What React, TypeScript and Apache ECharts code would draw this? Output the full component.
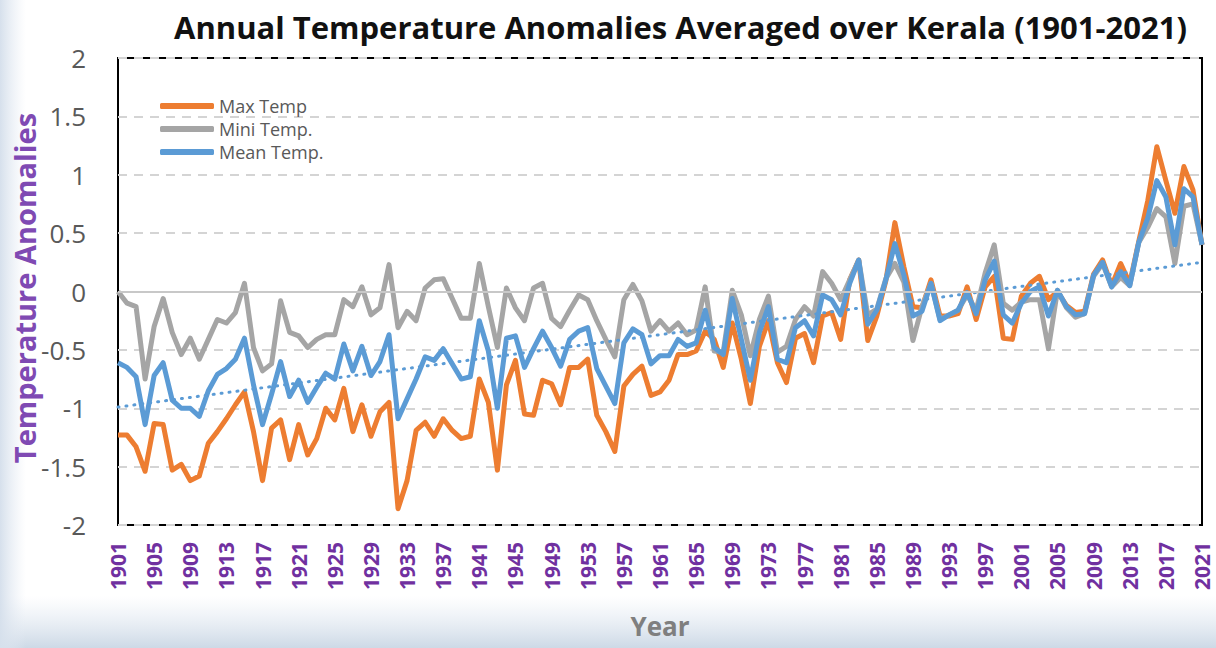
import React, { useEffect, useRef } from "react";
import * as echarts from "echarts";

const years: string[] = Array.from({ length: 121 }, (_, i) => String(1901 + i));

const maxTemp = [
  -1.23, -1.23, -1.33, -1.54, -1.13, -1.14, -1.53, -1.48, -1.62, -1.58,
  -1.30, -1.20, -1.09, -0.97, -0.86, -1.20, -1.62, -1.17, -1.10, -1.44,
  -1.14, -1.40, -1.26, -1.00, -1.10, -0.83, -1.20, -0.97, -1.24, -1.03,
  -0.95, -1.86, -1.62, -1.19, -1.12, -1.24, -1.09, -1.19, -1.26, -1.24,
  -0.75, -0.95, -1.53, -0.80, -0.59, -1.05, -1.06, -0.76, -0.79, -0.97,
  -0.65, -0.65, -0.58, -1.06, -1.20, -1.37, -0.81, -0.71, -0.64, -0.89,
  -0.86, -0.76, -0.54, -0.54, -0.51, -0.34, -0.41, -0.65, -0.27, -0.58,
  -0.96, -0.47, -0.25, -0.61, -0.78, -0.40, -0.36, -0.61, -0.21, -0.18,
  -0.41, 0.10, 0.27, -0.42, -0.21, 0.09, 0.59, 0.21, -0.13, -0.14,
  0.10, -0.21, -0.21, -0.19, 0.04, -0.24, 0.04, 0.13, -0.40, -0.41,
  -0.04, 0.07, 0.13, -0.07, 0.00, -0.12, -0.18, -0.17, 0.15, 0.27,
  0.05, 0.24, 0.07, 0.43, 0.78, 1.24, 0.95, 0.67, 1.07, 0.87,
  0.40,
];

const miniTemp = [
  0.00, -0.10, -0.13, -0.75, -0.30, -0.06, -0.35, -0.54, -0.40, -0.58,
  -0.41, -0.24, -0.27, -0.18, 0.07, -0.48, -0.68, -0.62, -0.08, -0.35,
  -0.38, -0.48, -0.41, -0.37, -0.37, -0.07, -0.13, 0.04, -0.20, -0.14,
  0.23, -0.31, -0.17, -0.25, 0.03, 0.10, 0.11, -0.06, -0.23, -0.23,
  0.24, -0.13, -0.48, 0.03, -0.14, -0.25, 0.03, 0.07, -0.23, -0.30,
  -0.16, -0.03, -0.07, -0.25, -0.41, -0.56, -0.07, 0.06, -0.08, -0.34,
  -0.25, -0.34, -0.27, -0.37, -0.33, 0.04, -0.51, -0.52, 0.01, -0.20,
  -0.55, -0.24, -0.04, -0.52, -0.47, -0.24, -0.13, -0.21, 0.17, 0.07,
  -0.07, 0.10, 0.27, -0.20, -0.15, 0.11, 0.24, 0.08, -0.42, -0.13,
  0.07, -0.24, -0.20, -0.16, -0.03, -0.16, 0.16, 0.40, -0.10, -0.16,
  -0.09, -0.07, -0.07, -0.49, 0.01, -0.14, -0.22, -0.19, 0.13, 0.24,
  0.04, 0.12, 0.05, 0.42, 0.55, 0.71, 0.64, 0.24, 0.73, 0.75,
  0.40,
];

const meanTemp = [
  -0.61, -0.65, -0.73, -1.14, -0.72, -0.61, -0.93, -1.00, -1.00, -1.07,
  -0.85, -0.71, -0.66, -0.58, -0.40, -0.80, -1.14, -0.88, -0.60, -0.90,
  -0.76, -0.95, -0.82, -0.70, -0.75, -0.45, -0.68, -0.47, -0.72, -0.60,
  -0.37, -1.09, -0.92, -0.75, -0.56, -0.59, -0.49, -0.62, -0.75, -0.73,
  -0.25, -0.51, -1.00, -0.40, -0.38, -0.65, -0.49, -0.34, -0.48, -0.64,
  -0.41, -0.34, -0.31, -0.66, -0.81, -0.96, -0.44, -0.32, -0.37, -0.62,
  -0.55, -0.55, -0.41, -0.47, -0.44, -0.16, -0.48, -0.54, -0.06, -0.41,
  -0.76, -0.35, -0.13, -0.58, -0.61, -0.31, -0.25, -0.38, -0.03, -0.07,
  -0.20, 0.07, 0.27, -0.28, -0.16, 0.10, 0.41, 0.14, -0.21, -0.17,
  0.07, -0.25, -0.20, -0.16, -0.01, -0.19, 0.10, 0.26, -0.20, -0.27,
  -0.10, 0.00, 0.04, -0.21, 0.01, -0.13, -0.20, -0.19, 0.14, 0.25,
  0.04, 0.17, 0.05, 0.42, 0.63, 0.95, 0.81, 0.40, 0.88, 0.81,
  0.40,
];

// Linear trend line of Mean Temp, end points
const trendYears = ["1901", "2021"];
const trendValues = [-0.99, 0.25];

const FONT = "'Open Sans', 'Noto Sans', sans-serif";

export default function App() {
  const ref = useRef<HTMLDivElement>(null);
  useEffect(() => {
    if (!ref.current) return;
    const chart = echarts.init(ref.current, undefined, { renderer: "svg" });
    const lineCommon = {
      type: "line" as const,
      showSymbol: false,
      symbol: "none",
      smooth: false,
      z: 3,
    };
    chart.setOption({
      animation: false,
      backgroundColor: "#ffffff",
      textStyle: { fontFamily: FONT },
      graphic: [
        {
          type: "rect",
          z: -10,
          silent: true,
          shape: { x: 0, y: 596, width: 1216, height: 52 },
          style: {
            fill: new echarts.graphic.LinearGradient(0, 0, 0, 1, [
              { offset: 0, color: "rgba(220,229,239,0)" },
              { offset: 1, color: "rgba(205,217,230,1)" },
            ]),
          },
        },
        {
          type: "rect",
          z: -10,
          silent: true,
          shape: { x: 0, y: 0, width: 26, height: 648 },
          style: {
            fill: new echarts.graphic.LinearGradient(0, 0, 1, 0, [
              { offset: 0, color: "rgba(214,224,236,1)" },
              { offset: 1, color: "rgba(230,236,244,0)" },
            ]),
          },
        },
        {
          type: "text",
          silent: true,
          x: 24,
          y: 288,
          rotation: Math.PI / 2,
          style: {
            text: "Temperature Anomalies",
            align: "center",
            verticalAlign: "middle",
            fontFamily: FONT,
            fontSize: 29,
            fontWeight: "bold",
            fill: "#7f4ab3",
          },
        },
      ],
      title: {
        text: "Annual Temperature Anomalies Averaged over Kerala (1901-2021)",
        left: 169,
        top: 6,
        textStyle: {
          fontFamily: FONT,
          fontSize: 31,
          fontWeight: "bold",
          color: "#111111",
        },
      },
      legend: {
        data: ["Max Temp", "Mini Temp.", "Mean Temp."],
        orient: "vertical",
        left: 155,
        top: 92,
        itemWidth: 54,
        itemHeight: 6,
        itemGap: 5,
        icon: "roundRect",
        textStyle: {
          fontFamily: FONT,
          fontSize: 18,
          lineHeight: 18,
          color: "#595959",
        },
      },
      grid: {
        left: 118,
        right: 14,
        top: 58,
        bottom: 123,
        show: true,
        borderColor: "#000000",
        borderWidth: 2,
        backgroundColor: "#ffffff",
        outerBoundsMode: "none",
      },
      xAxis: {
        type: "category",
        data: years,
        boundaryGap: false,
        name: "Year",
        nameLocation: "middle",
        nameGap: 88,
        nameTextStyle: {
          fontFamily: FONT,
          fontSize: 26,
          fontWeight: "bold",
          color: "#7f7f7f",
        },
        axisLine: { show: false },
        axisTick: { show: false },
        splitLine: { show: false },
        axisLabel: {
          interval: 3,
          rotate: 90,
          margin: 17,
          fontFamily: FONT,
          fontSize: 21,
          fontWeight: "bold",
          color: "#7030a0",
        },
      },
      yAxis: {
        type: "value",
        min: -2,
        max: 2,
        interval: 0.5,
        axisLine: { show: false },
        axisTick: { show: false },
        axisLabel: {
          margin: 32,
          fontFamily: FONT,
          fontSize: 26,
          color: "#595959",
        },
        splitLine: {
          show: true,
          lineStyle: { color: "#d4d4d4", width: 2, type: [9, 7] },
        },
      },
      series: [
        {
          name: "zero",
          type: "line",
          data: [],
          z: 1,
          silent: true,
          markLine: {
            silent: true,
            symbol: "none",
            label: { show: false },
            lineStyle: { color: "#c8c8c8", width: 2, type: "solid" },
            data: [{ yAxis: 0 }],
          },
        },
        {
          ...lineCommon,
          name: "Max Temp",
          data: maxTemp,
          color: "#ed7d31",
          lineStyle: { color: "#ed7d31", width: 5, join: "round" },
        },
        {
          ...lineCommon,
          name: "Mini Temp.",
          data: miniTemp,
          color: "#a5a5a5",
          lineStyle: { color: "#a5a5a5", width: 5, join: "round" },
        },
        {
          ...lineCommon,
          name: "Mean Temp.",
          data: meanTemp,
          color: "#5b9bd5",
          lineStyle: { color: "#5b9bd5", width: 5, join: "round" },
        },
        {
          type: "line",
          name: "Linear (Mean Temp.)",
          data: trendYears.map((y, i) => [y, trendValues[i]]),
          showSymbol: false,
          symbol: "none",
          z: 4,
          silent: true,
          lineStyle: {
            color: "#5b9bd5",
            width: 3,
            type: [1, 7],
            cap: "round",
          },
        },
      ],
    });
    return () => chart.dispose();
  }, []);
  return (
    <div
      ref={ref}
      style={{ position: "absolute", left: 0, top: 0, width: 1216, height: 648 }}
    />
  );
}
